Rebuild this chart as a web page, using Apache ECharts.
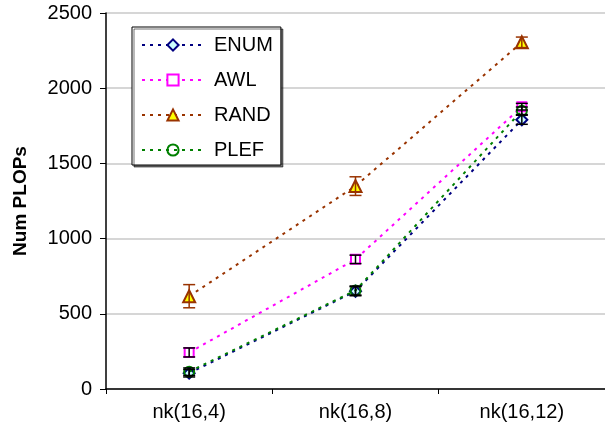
<!DOCTYPE html>
<html>
<head>
<meta charset="utf-8">
<script src="https://cdn.jsdelivr.net/npm/echarts@6/dist/echarts.min.js"></script>
<style>html,body{margin:0;padding:0;background:#fff;}#c{width:605px;height:436px;}</style>
</head>
<body>
<div id="c"></div>
<script>
var categories = ['nk(16,4)', 'nk(16,8)', 'nk(16,12)'];
var yTicks = [0, 500, 1000, 1500, 2000, 2500];
var enumVals = [105, 650, 1790];
var enumErr = [25, 30, 30];
var awlVals = [243, 862, 1877];
var awlErr = [30, 28, 22];
var randVals = [617, 1349, 2305];
var randErr = [77, 62, 35];
var plefVals = [115, 655, 1850];
var plefErr = [25, 30, 25];

var FONT = 'Liberation Sans, Arial, sans-serif';

function lineSeries(name, data, color, symbol, size, fill, z) {
  return {
    name: name, type: 'line', data: data,
    symbol: symbol, symbolSize: size,
    lineStyle: { color: color, width: 2, type: [3, 5] },
    itemStyle: { color: fill, borderColor: color, borderWidth: 2 },
    emphasis: { disabled: true },
    z: z
  };
}

function errSeries(vals, errs, color, z) {
  return {
    type: 'custom',
    silent: true,
    z: z,
    data: vals.map(function (v, i) { return [i, v, errs[i]]; }),
    encode: { x: 0, y: 1 },
    renderItem: function (params, api) {
      var x = api.value(0), v = api.value(1), e = api.value(2);
      var top = api.coord([x, v + e]);
      var bot = api.coord([x, v - e]);
      var hw = 6;
      var st = { stroke: color, lineWidth: 1.5 };
      return {
        type: 'group',
        children: [
          { type: 'line', shape: { x1: top[0], y1: top[1], x2: bot[0], y2: bot[1] }, style: st },
          { type: 'line', shape: { x1: top[0] - hw, y1: top[1], x2: top[0] + hw, y2: top[1] }, style: st },
          { type: 'line', shape: { x1: bot[0] - hw, y1: bot[1], x2: bot[0] + hw, y2: bot[1] }, style: st }
        ]
      };
    }
  };
}

var chart = echarts.init(document.getElementById('c'), null, { renderer: 'canvas' });
chart.setOption({
  animation: false,
  backgroundColor: '#ffffff',
  grid: { left: 106, right: -3, top: 13, bottom: 47, containLabel: false },
  legend: {
    orient: 'vertical',
    left: 132, top: 27,
    padding: [8, 8, 5, 9],
    itemWidth: 62, itemHeight: 14, itemGap: 15,
    backgroundColor: '#ffffff',
    borderColor: '#000000', borderWidth: 1,
    shadowColor: 'rgba(0,0,0,0.55)', shadowOffsetX: 2, shadowOffsetY: 2, shadowBlur: 0,
    textStyle: { fontFamily: FONT, fontSize: 20, color: '#000', lineHeight: 20, padding: [0, 0, 0, 5] },
    data: ['ENUM', 'AWL', 'RAND', 'PLEF']
  },
  xAxis: {
    type: 'category', data: categories, boundaryGap: true,
    axisLine: { lineStyle: { color: '#000', width: 1.5 } },
    axisTick: { show: true, inside: false, length: 5, lineStyle: { color: '#000' } },
    axisLabel: { fontFamily: FONT, fontSize: 20, color: '#000', margin: 13 },
    splitLine: { show: false }
  },
  yAxis: {
    type: 'value', min: yTicks[0], max: yTicks[yTicks.length - 1], interval: 500,
    name: 'Num PLOPs', nameLocation: 'middle', nameGap: 76, nameRotate: 90,
    nameTextStyle: { fontFamily: FONT, fontSize: 19, fontWeight: 'bold', color: '#000' },
    axisLine: { show: true, lineStyle: { color: '#000', width: 1.5 } },
    axisTick: { show: true, inside: false, length: 6, lineStyle: { color: '#000' } },
    axisLabel: { fontFamily: FONT, fontSize: 20, color: '#000', margin: 14,
      formatter: function (v) { return String(v); } },
    splitLine: { show: true, lineStyle: { color: '#c8c8c8', width: 1.5 } }
  },
  series: [
    lineSeries('ENUM', enumVals, '#000080', 'diamond', 11, '#ccffff', 2),
    lineSeries('AWL', awlVals, '#ff00ff', 'rect', 9, '#ffffff', 3),
    lineSeries('RAND', randVals, '#993300', 'triangle', 12, '#ffff00', 4),
    lineSeries('PLEF', plefVals, '#008000', 'circle', 10, 'rgba(255,255,255,0)', 5),
    errSeries(enumVals, enumErr, '#000000', 10),
    errSeries(awlVals, awlErr, '#000000', 10),
    errSeries(randVals, randErr, '#993300', 10),
    errSeries(plefVals, plefErr, '#000000', 10)
  ]
});
</script>
</body>
</html>
